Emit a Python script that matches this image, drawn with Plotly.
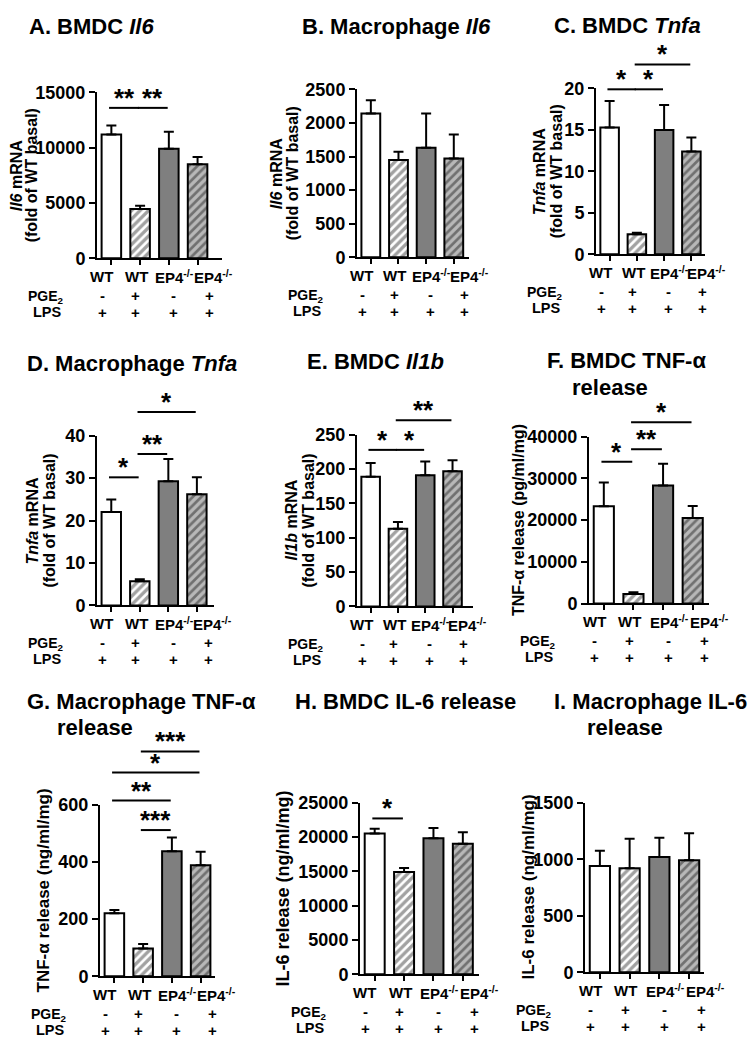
import plotly.graph_objects as go

W, H = 753, 1052
FONT = "Arial, 'Liberation Sans', sans-serif"


def px(x):
    return x / W


def py(y):
    return (H - y) / H


# ---------------- data ----------------
positions = [0, 1, 2, 3]
genotype_labels = ["WT", "WT", "EP4<sup>-/-</sup>", "EP4<sup>-/-</sup>"]
pge2_row = ["-", "+", "-", "+"]
lps_row = ["+", "+", "+", "+"]

A_mean = [11200, 4450, 9900, 8500]
A_sem = [800, 300, 1550, 650]
A_sig = [(0, 1, 13600, "**"), (1, 2, 13600, "**")]

B_mean = [2140, 1450, 1630, 1470]
B_sem = [200, 120, 510, 360]
B_sig = []

C_mean = [15.3, 2.4, 15.0, 12.4]
C_sem = [3.2, 0.2, 3.0, 1.7]
C_sig = [(0, 1, 19.9, "*"), (1, 2, 19.9, "*"), (1, 3, 22.9, "*")]

D_mean = [22.0, 5.7, 29.3, 26.2]
D_sem = [3.0, 0.5, 5.2, 4.0]
D_sig = [(0, 1, 30.2, "*"), (1, 2, 35.7, "**"), (1, 3, 45.6, "*")]

E_mean = [189, 113, 191, 197]
E_sem = [20, 10, 20, 16]
E_sig = [(0, 1, 228, "*"), (1, 2, 228, "*"), (1, 3, 271, "**")]

F_mean = [23300, 2300, 28300, 20500]
F_sem = [5700, 400, 5200, 2900]
F_sig = [(0, 1, 34000, "*"), (1, 2, 37000, "**"), (1, 3, 43500, "*")]

G_mean = [220, 97, 437, 388]
G_sem = [12, 16, 48, 47]
G_sig = [(1, 2, 511, "***"), (0, 2, 614, "**"), (0, 3, 712, "*"), (1, 3, 786, "***")]

H_mean = [20500, 14900, 19800, 19000]
H_sem = [700, 600, 1500, 1700]
H_sig = [(0, 1, 22700, "*")]

I_mean = [940, 920, 1020, 990]
I_sem = [135, 260, 170, 240]
I_sig = []

bar_fill = ["white", "white", "#7f7f7f", "#707070"]
bar_hatch = ["", "/", "", "/"]

# text placement along each x axis (axis units) for group labels and +/- rows
label_pos = [-0.33, 0.87, 2.2, 3.55]
row_pos = [-0.3, 0.85, 2.17, 3.4]
XMIN = -0.5

# ---------------- panel layout (page-pixel boxes) ----------------
panels = [
    dict(mean=A_mean, sem=A_sem, sig=A_sig, ymax=15000, dtick=5000,
         box=(97, 222, 253, 84), xr=3.85,
         ytitle=[("<i>Il6</i> mRNA", 16, 16), ("(fold of WT basal)", 31, 16)],
         title=[("A. BMDC <i>Il6</i>", 27, 17)]),
    dict(mean=B_mean, sem=B_sem, sig=B_sig, ymax=2500, dtick=500,
         box=(357, 469, 252, 81), xr=3.55,
         ytitle=[("<i>Il6</i> mRNA", 276, 16), ("(fold of WT basal)", 292, 16)],
         title=[("B. Macrophage <i>Il6</i>", 300, 17)]),
    dict(mean=C_mean, sem=C_sem, sig=C_sig, ymax=20, dtick=5,
         box=(596, 705, 249, 80), xr=3.5,
         ytitle=[("<i>Tnfa</i> mRNA", 539, 16), ("(fold of WT basal)", 556, 16)],
         title=[("C. BMDC <i>Tnfa</i>", 552, 16)]),
    dict(mean=D_mean, sem=D_sem, sig=D_sig, ymax=40, dtick=10,
         box=(97, 214, 607, 434), xr=3.6,
         ytitle=[("<i>Tnfa</i> mRNA", 33, 16), ("(fold of WT basal)", 50, 16)],
         title=[("D. Macrophage <i>Tnfa</i>", 25, 360)]),
    dict(mean=E_mean, sem=E_sem, sig=E_sig, ymax=250, dtick=50,
         box=(357, 473, 608, 433), xr=3.75,
         ytitle=[("<i>Il1b</i> mRNA", 292, 16), ("(fold of WT basal)", 309, 16)],
         title=[("E. BMDC <i>Il1b</i>", 305, 358)]),
    dict(mean=F_mean, sem=F_sem, sig=F_sig, ymax=40000, dtick=10000,
         box=(589, 709, 605, 435), xr=3.55,
         ytitle=[("TNF-α release (pg/ml/mg)", 518, 16)],
         title=[("F. BMDC TNF-α", 545, 357), ("release", 570, 385)]),
    dict(mean=G_mean, sem=G_sem, sig=G_sig, ymax=600, dtick=200,
         box=(100, 215, 985, 810), xr=3.5,
         ytitle=[("TNF-α release (ng/ml/mg)", 43, 17)],
         title=[("G. Macrophage TNF-α", 25, 705), ("release", 55, 731)]),
    dict(mean=H_mean, sem=H_sem, sig=H_sig, ymax=25000, dtick=5000,
         box=(360, 479, 983, 808), xr=3.55,
         ytitle=[("IL-6 release (ng/ml/mg)", 283, 18)],
         title=[("H. BMDC IL-6 release", 293, 705)]),
    dict(mean=I_mean, sem=I_sem, sig=I_sig, ymax=1500, dtick=500,
         box=(585, 704, 981, 808), xr=3.5,
         ytitle=[("IL-6 release (ng/ml/mg)", 528, 17)],
         title=[("I. Macrophage IL-6", 552, 705), ("release", 585, 731)]),
]

fig = go.Figure()
annotations = []
shapes = []
layout_axes = {}

for k, p in enumerate(panels, start=1):
    sfx = "" if k == 1 else str(k)
    xname, yname = "x" + sfx, "y" + sfx
    x0, x1, yb, yt = p["box"]
    span = p["xr"] - XMIN
    label_f = [(v - XMIN) / span for v in label_pos]
    row_f = [(v - XMIN) / span for v in row_pos]

    fig.add_trace(go.Bar(
        x=positions, y=p["mean"], width=0.68,
        xaxis=xname, yaxis=yname, showlegend=False,
        marker=dict(color=bar_fill, line=dict(color="black", width=2),
                    pattern=dict(shape=bar_hatch, fgcolor="black", size=6,
                                 solidity=0.55)),
        error_y=dict(type="data", symmetric=False, array=p["sem"],
                     arrayminus=[0, 0, 0, 0], color="black", thickness=2, width=5),
    ))

    layout_axes["xaxis" + sfx] = dict(
        domain=[px(x0), px(x1)], range=[XMIN, p["xr"]], anchor=yname,
        showline=True, linewidth=2, linecolor="black",
        ticks="outside", ticklen=5, tickwidth=2, tickcolor="black",
        tickvals=positions, showticklabels=False,
        showgrid=False, zeroline=False, fixedrange=True,
    )
    layout_axes["yaxis" + sfx] = dict(
        domain=[py(yb), py(yt)], range=[0, p["ymax"]], anchor=xname,
        showline=True, linewidth=2, linecolor="black",
        ticks="outside", ticklen=6, tickwidth=2, tickcolor="black",
        tickvals=list(range(0, p["ymax"] + 1, p["dtick"])), tickformat="d",
        tickfont=dict(size=18, color="black"),
        showgrid=False, zeroline=False, fixedrange=True,
    )

    xdom = xname + " domain"
    ydom = yname + " domain"
    # group labels and treatment rows
    for i in positions:
        annotations.append(dict(xref=xdom, yref=ydom, x=label_f[i], y=0,
                                xanchor="center", yanchor="middle", yshift=-18,
                                text=genotype_labels[i],
                                showarrow=False, font=dict(size=15)))
        annotations.append(dict(xref=xdom, yref=ydom, x=row_f[i], y=0,
                                xanchor="center", yanchor="middle", yshift=-37,
                                text=pge2_row[i],
                                showarrow=False, font=dict(size=15)))
        annotations.append(dict(xref=xdom, yref=ydom, x=row_f[i], y=0,
                                xanchor="center", yanchor="middle", yshift=-54,
                                text=lps_row[i],
                                showarrow=False, font=dict(size=15)))
    annotations.append(dict(xref=xdom, yref=ydom, x=0, y=0,
                            xanchor="right", xshift=-31, yanchor="middle", yshift=-39,
                            text="PGE<sub>2</sub>", showarrow=False, font=dict(size=14)))
    annotations.append(dict(xref=xdom, yref=ydom, x=0, y=0,
                            xanchor="right", xshift=-33, yanchor="middle", yshift=-54,
                            text="LPS", showarrow=False, font=dict(size=14.5)))

    # y title (one annotation per line)
    for txt, tx, fs in p["ytitle"]:
        annotations.append(dict(xref="paper", yref=ydom, x=px(tx), y=0.5,
                                xanchor="center", yanchor="middle", textangle=-90,
                                text=txt, showarrow=False, font=dict(size=fs)))

    # panel titles
    for txt, tx, ty in p["title"]:
        annotations.append(dict(xref="paper", yref="paper", x=px(tx), y=py(ty),
                                xanchor="left", yanchor="middle", text=txt,
                                showarrow=False, font=dict(size=22)))

    # significance bars
    for (a, b, lvl, stars) in p["sig"]:
        yf = lvl / p["ymax"]
        shapes.append(dict(type="line", xref=xname, yref=ydom,
                           x0=a - 0.08, x1=b - 0.04, y0=yf, y1=yf,
                           line=dict(color="black", width=2)))
        annotations.append(dict(xref=xname, yref=ydom, x=(a + b) / 2 - 0.06, y=yf,
                                xanchor="center", yanchor="bottom", yshift=-7,
                                text=stars, showarrow=False, font=dict(size=26)))

fig.update_layout(
    width=W, height=H, margin=dict(l=0, r=0, t=0, b=0),
    paper_bgcolor="white", plot_bgcolor="white",
    font=dict(family=FONT, color="black", weight="bold"),
    annotations=annotations, shapes=shapes, bargap=0.3,
    **layout_axes,
)

# drop the browser's default 8px body margin so the figure fills the window exactly
fig.write_html("out.html",
               config={"displayModeBar": False, "staticPlot": True},
               post_script="document.body.style.margin='0px';document.body.style.overflow='hidden';")
